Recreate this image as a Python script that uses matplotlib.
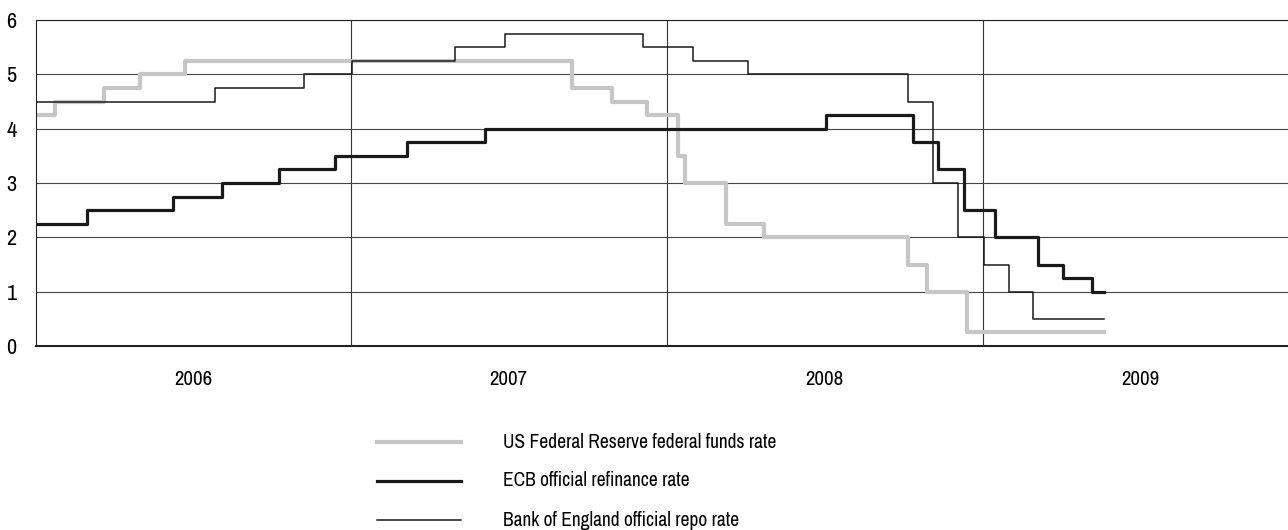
import datetime as dt
import matplotlib
matplotlib.use('Agg')
import matplotlib.pyplot as plt
from matplotlib import font_manager
from matplotlib.lines import Line2D

# pick a narrow / condensed face if one is installed
names = sorted({f.name for f in font_manager.fontManager.ttflist})
narrow = [n for n in names if 'Narrow' in n or 'Condensed' in n]
plt.rcParams['font.family'] = narrow[:1] + ['DejaVu Sans']

# policy rate change dates and new levels (%)
fed_dates = ['2006-01-01', '2006-01-23', '2006-03-21', '2006-05-01', '2006-06-22',
             '2007-09-13', '2007-10-30', '2007-12-09', '2008-01-14', '2008-01-22',
             '2008-03-10', '2008-04-23', '2008-10-06', '2008-10-28', '2008-12-14',
             '2009-05-21']
fed_rates = [4.25, 4.5, 4.75, 5.0, 5.25, 4.75, 4.5, 4.25, 3.5, 3.0,
             2.25, 2.0, 1.5, 1.0, 0.25, 0.25]

ecb_dates = ['2006-01-01', '2006-03-01', '2006-06-09', '2006-08-04', '2006-10-09',
             '2006-12-13', '2007-03-06', '2007-06-05', '2008-07-03', '2008-10-12',
             '2008-11-10', '2008-12-10', '2009-01-15', '2009-03-06', '2009-04-04',
             '2009-05-07', '2009-05-21']
ecb_rates = [2.25, 2.5, 2.75, 3.0, 3.25, 3.5, 3.75, 4.0, 4.25, 3.75,
             3.25, 2.5, 2.0, 1.5, 1.25, 1.0, 1.0]

boe_dates = ['2006-01-01', '2006-07-27', '2006-11-07', '2007-01-02', '2007-05-01',
             '2007-06-28', '2007-12-05', '2008-02-01', '2008-04-04', '2008-10-06',
             '2008-11-04', '2008-12-03', '2009-01-03', '2009-01-31', '2009-02-28',
             '2009-05-21']
boe_rates = [4.5, 4.75, 5.0, 5.25, 5.5, 5.75, 5.5, 5.25, 5.0, 4.5,
             3.0, 2.0, 1.5, 1.0, 0.5, 0.5]

years = [2006, 2007, 2008, 2009]
labels = ['US Federal Reserve federal funds rate',
          'ECB official refinance rate',
          'Bank of England official repo rate']


def to_dt(lst):
    return [dt.datetime.strptime(s, '%Y-%m-%d') for s in lst]


W, H = 1288, 530
fig = plt.figure(figsize=(W / 100, H / 100), dpi=100)
x0, x1 = 36, 1298
y0, y1 = 346, 20
ax = fig.add_axes([x0 / W, 1 - y0 / H, (x1 - x0) / W, (y0 - y1) / H])

grey, black = '#c6c6c6', '#1a1a1a'
lw_fed, lw_ecb, lw_boe = 3.0, 2.3, 1.1
ax.step(to_dt(fed_dates), fed_rates, where='post', color=grey, lw=lw_fed)
ax.step(to_dt(boe_dates), boe_rates, where='post', color=black, lw=lw_boe)
ax.step(to_dt(ecb_dates), ecb_rates, where='post', color=black, lw=lw_ecb)

ax.set_xlim(dt.datetime(2006, 1, 1), dt.datetime(2010, 1, 1))
ax.set_ylim(0, 6)
ax.set_yticks(range(7))

ax.set_xticks([dt.datetime(y, 1, 1) for y in years[1:]])
ax.set_xticklabels([])
ax.set_xticks([dt.datetime(y, 7, 2) for y in years], minor=True)
ax.set_xticklabels([str(y) for y in years], minor=True)
ax.tick_params(axis='x', which='both', length=0, pad=17, labelsize=15)
ax.tick_params(axis='y', length=0, pad=14, labelsize=16)

ax.grid(axis='y', color='#444444', lw=0.8)
ax.grid(axis='x', which='major', color='#333333', lw=0.8)
ax.set_axisbelow(True)
ax.spines['right'].set_visible(False)
ax.spines['top'].set_linewidth(0.8)
ax.spines['left'].set_linewidth(0.8)
ax.spines['bottom'].set_linewidth(1.5)
for s in ax.spines.values():
    s.set_color('#222222')

# legend drawn by hand below the chart
styles = [(grey, lw_fed), (black, lw_ecb), (black, lw_boe)]
for i, (lab, (c, lw)) in enumerate(zip(labels, styles)):
    yy = 1 - (442 + 39 * i) / H
    fig.add_artist(Line2D([377 / W, 461 / W], [yy, yy], color=c, lw=lw))
    fig.text(503 / W, yy, lab, fontsize=14, va='center', ha='left')

fig.savefig('out.png', dpi=100)
